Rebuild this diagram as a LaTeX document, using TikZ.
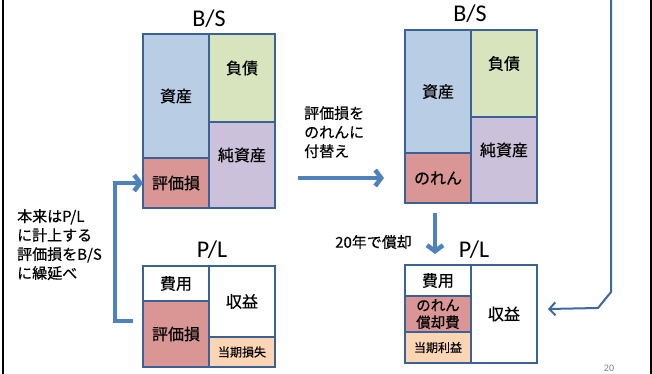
\documentclass[tikz,border=0pt]{standalone}
\usepackage{fontspec}
\setmainfont{Carlito}
\newfontfamily\jp[FakeBold=0.4]{Noto Sans CJK JP}
\usetikzlibrary{arrows.meta}
\definecolor{bdr}{HTML}{3A6296}
\definecolor{arr}{HTML}{4F81BD}
\definecolor{arrdk}{HTML}{3D68A0}
\definecolor{cAsset}{HTML}{B9CDE5}
\definecolor{cLiab}{HTML}{D7E4BD}
\definecolor{cEq}{HTML}{CCC1DA}
\definecolor{cLoss}{HTML}{D99694}
\definecolor{cPeach}{HTML}{FCD5B5}
\begin{document}
\begin{tikzpicture}[x=1pt,y=-1pt,
  cell/.style={draw=bdr, line width=1.8pt, rectangle, anchor=north west,
    inner sep=0pt, outer sep=0pt, font=\jp\fontsize{16}{18}\selectfont, align=center},
  lbl/.style={font=\jp\fontsize{16}{18}\selectfont, inner sep=0pt},
  small/.style={font=\jp\fontsize{12}{14}\selectfont},
  title/.style={font=\fontsize{24}{26}\selectfont, inner sep=0pt},
  note/.style={font=\jp\fontsize{15}{19}\selectfont, align=left, anchor=north west, inner sep=0pt},
  bigarrow/.style={draw=arr, line width=4.5pt, -{Straight Barb[length=6pt,width=16pt]}},
  thinarrow/.style={draw=arrdk, line width=2pt, -{Straight Barb[length=6pt,width=13pt]}},
  frame/.style={draw=black, line width=2pt}]
\useasboundingbox (0,0) rectangle (652,374);

% side frame lines
\coordinate (f1) at (3,0); \coordinate (f2) at (3,374);
\coordinate (f3) at (651,0); \coordinate (f4) at (651,374);
\draw[frame] (f1) -- (f2);
\draw[frame] (f3) -- (f4);

% Left B/S
\node[title] (t1) at (209,19) {B/S};
\node[cell, fill=cAsset, minimum width=66pt, minimum height=124pt] (LA) at (143,34) {資産};
\node[cell, fill=cLoss, minimum width=66pt, minimum height=50pt] (LV) at (143,158) {評価損};
\node[cell, fill=cLiab, minimum width=66pt, minimum height=88pt] (LD) at (209,34) {};
\node[cell, fill=cEq, minimum width=66pt, minimum height=86pt] (LN) at (209,122) {};
\node[lbl] (LDt) at ([yshift=10pt]LD.center) {負債};
\node[lbl] (LNt) at ([yshift=10pt]LN.center) {純資産};

% Left P/L
\node[title] (t2) at (212,250) {P/L};
\node[cell, fill=white, minimum width=66pt, minimum height=35pt] (LE) at (143,266) {費用};
\node[cell, fill=cLoss, minimum width=66pt, minimum height=66pt] (LV2) at (143,301) {評価損};
\node[cell, fill=white, minimum width=66pt, minimum height=71pt] (LR) at (209,266) {収益};
\node[cell, fill=cPeach, minimum width=66pt, minimum height=30pt, small] (LL) at (209,337) {当期損失};

% Left bracket arrow
\coordinate (b1) at (133,321);
\coordinate (b2) at (115,183);
\draw[bigarrow] (b1) -| (b2) -- (LV.west);
\node[note] (n1) at (17,209) {本来はP/L\\に計上する\\評価損をB/S\\に繰延べ};

% Middle arrow
\node[note] (n2) at (304,106) {評価損を\\のれんに\\付替え};
\coordinate (m1) at (298,178);
\coordinate (m2) at (384,178);
\draw[bigarrow] (m1) -- (m2);

% Right B/S
\node[title] (t3) at (470,14) {B/S};
\node[cell, fill=cAsset, minimum width=66pt, minimum height=123pt] (RA) at (405,30) {資産};
\node[cell, fill=cLoss, minimum width=66pt, minimum height=50pt] (RG) at (405,153) {のれん};
\node[cell, fill=cLiab, minimum width=66pt, minimum height=87pt] (RD) at (471,30) {};
\node[cell, fill=cEq, minimum width=66pt, minimum height=86pt] (RN) at (471,117) {};
\node[lbl] (RDt) at ([yshift=10pt]RD.center) {負債};
\node[lbl] (RNt) at ([yshift=10pt]RN.center) {純資産};

% Down arrow
\coordinate (d1) at (435,213);
\coordinate (d2) at (435,254);
\draw[bigarrow] (d1) -- (d2);
\node[note, anchor=west] (n3) at (335,242) {20年で償却};

% Right P/L
\node[title] (t4) at (474,250) {P/L};
\node[cell, fill=white, minimum width=66pt, minimum height=31pt] (RE) at (405,265) {費用};
\node[cell, fill=cLoss, minimum width=66pt, minimum height=36pt, font=\jp\fontsize{14.5}{17}\selectfont] (RX) at (405,296) {のれん\\償却費};
\node[cell, fill=cPeach, minimum width=66pt, minimum height=31pt, small] (RP) at (405,332) {当期利益};
\node[cell, fill=white, minimum width=66pt, minimum height=98pt] (RR) at (471,265) {収益};

% Right long arrow
\coordinate (r1) at (611,0);
\coordinate (r2) at (611,292);
\coordinate (r3) at (598,308);
\coordinate (r4) at (548,309);
\draw[thinarrow] (r1) -- (r2) -- (r3) -- (r4);

% page number
\node[font=\fontsize{10}{11}\selectfont, text=gray, inner sep=0pt] (pg) at (609,368) {20};
\end{tikzpicture}
\end{document}
